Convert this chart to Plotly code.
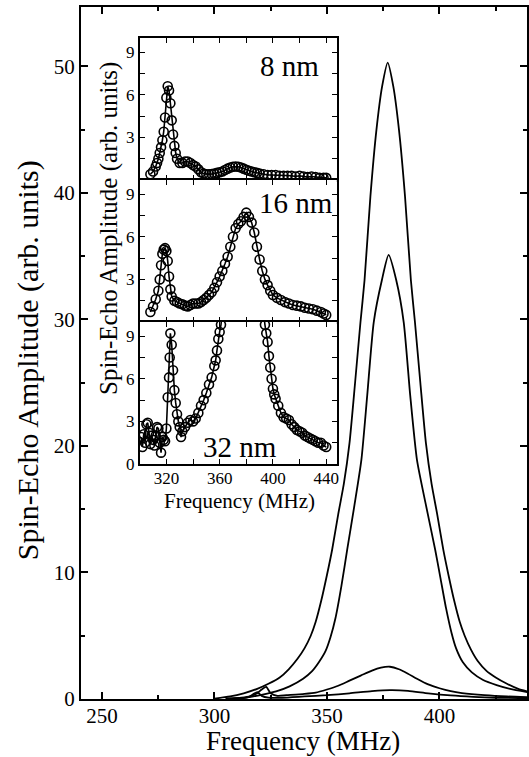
import plotly.graph_objects as go

# ---------------- main panel data (Frequency MHz, amplitude) ----------------
xa = [300, 307, 313, 319, 324, 329, 333, 337, 340, 342.8, 345, 347.5, 350, 352.3, 355, 357.5, 360, 362.5, 364.9, 366.7,
      369.3, 372, 374.5, 377, 379.5, 382, 384.7, 387.3, 389.1, 391.5, 394, 396.5, 399, 401.7, 404, 406.5, 409, 411.2,
      414, 417, 421, 425, 430, 435, 439]
ya = [0.03, 0.2, 0.45, 0.8, 1.2, 1.7, 2.35, 3.2, 4.0, 5.0, 6.1, 7.8, 9.8, 11.8, 14.6, 17.0, 20.2, 25.0, 29.8, 33.1,
      39.7, 45, 48.4, 50.3, 48.4, 45, 39.7, 33.1, 29.8, 25.0, 20.2, 17.0, 14.6, 11.8, 9.8, 7.8, 6.1, 5.0,
      3.9, 3.0, 2.2, 1.7, 1.2, 0.8, 0.6]

xb = [308.4, 315.4, 321.4, 327.4, 333.4, 339.4, 343.4, 346.4, 349.4, 351.6, 353.8, 356.4, 359, 362.2, 365.3, 367.9,
      370.8, 374.4, 377.4, 380.8, 384.1, 387, 390, 393.9, 398.1, 400.4, 402.9, 405.4, 407.4, 410.4, 414.4, 419.4,
      425.4, 431.4, 439]
yb = [0.02, 0.15, 0.35, 0.6, 1.0, 1.6, 2.2, 2.9, 3.8, 4.9, 6.4, 8.9, 11.8, 15.3, 18.9, 24.0,
      29.8, 33.1, 35.1, 33.1, 29.8, 24.0, 18.9, 15.4, 11.8, 9.6, 7.2, 5.2, 4.0, 2.9, 2.1, 1.5,
      1.1, 0.8, 0.55]

xc = [305, 312, 316, 319, 321, 323, 325, 328, 332, 340, 345, 350, 355, 360, 365, 370, 374, 378, 382, 386,
      390, 395, 400, 405, 410, 420, 430, 439]
yc = [0.05, 0.1, 0.2, 0.45, 0.75, 0.95, 0.45, 0.25, 0.3, 0.4, 0.5, 0.75, 1.05, 1.45, 1.85, 2.25, 2.48, 2.55, 2.35, 2.0,
      1.6, 1.15, 0.85, 0.62, 0.47, 0.3, 0.2, 0.15]

xd = [305, 312, 315, 317, 319, 321, 324, 330, 340, 350, 360, 370, 378, 386, 395, 405, 415, 425, 439]
yd = [0.0, 0.05, 0.15, 0.35, 0.55, 0.25, 0.1, 0.1, 0.2, 0.3, 0.45, 0.62, 0.7, 0.65, 0.45, 0.28, 0.17, 0.1, 0.06]

# ---------------- inset data ----------------
x8 = [308, 310, 312, 313, 314, 315, 316, 317, 318, 319,
      320, 321, 322, 323, 324, 325, 326, 327, 328,
      330, 332, 334, 336, 338, 340, 342, 344, 346, 348, 350, 352, 354, 356, 358, 360,
      362, 364, 366, 368, 370, 372, 374, 376, 378, 380, 382, 384, 386, 388, 390,
      393, 396, 399, 402, 405, 408, 411, 414, 417, 420, 423, 426, 429, 432, 435, 438, 440]
y8 = [0.4, 0.6, 0.95, 1.2, 1.5, 1.9, 2.3, 2.8, 3.4, 4.4,
      5.8, 6.6, 6.3, 5.4, 4.2, 3.2, 2.4, 1.9, 1.5,
      1.2, 1.2, 1.3, 1.3, 1.2, 1.05, 0.95, 0.75, 0.55, 0.45, 0.4, 0.4, 0.42, 0.45, 0.5, 0.55,
      0.6, 0.7, 0.8, 0.88, 0.93, 0.95, 0.93, 0.88, 0.8, 0.72, 0.65, 0.6, 0.55, 0.5, 0.45,
      0.4, 0.35, 0.35, 0.35, 0.3, 0.3, 0.3, 0.3, 0.25, 0.3, 0.25, 0.2, 0.25, 0.2, 0.15, 0.15, 0.15]

x16 = [308, 310, 312, 314, 315, 316, 317, 318, 319, 320, 321, 322, 323, 324,
       326, 328, 330, 332, 334, 336, 338, 340, 342, 344, 346, 348, 350, 352, 354, 356, 358, 360, 362, 364,
       366, 368, 370, 372, 374, 376, 378, 380, 382, 384, 386, 388, 390, 392, 394, 396, 398, 400,
       403, 406, 409, 412, 415, 418, 421, 424, 427, 430, 433, 436, 438, 440]
y16 = [0.7, 1.1, 1.6, 2.2, 3.0, 4.0, 4.8, 5.1, 5.2, 5.0, 4.3, 3.2, 2.3, 1.8,
       1.5, 1.4, 1.3, 1.25, 1.15, 1.1, 1.2, 1.3, 1.3, 1.3, 1.4, 1.55, 1.7, 1.9, 2.1, 2.4, 2.8, 3.2, 3.6, 4.1,
       4.6, 5.3, 6.0, 6.6, 6.9, 7.1, 7.4, 7.7, 7.4, 7.0, 6.3, 5.3, 4.4, 3.6, 3.0, 2.6, 2.2, 1.9,
       1.7, 1.55, 1.4, 1.3, 1.2, 1.15, 1.1, 1.0, 0.95, 0.9, 0.8, 0.7, 0.6, 0.5]

x32 = [301, 302, 303, 304, 305, 306, 307, 308, 309, 310, 311, 312, 313, 314, 315, 316, 317, 318, 319, 320,
       321, 322, 322.5, 323, 324, 325, 326, 327, 328, 329, 330, 331, 332, 334, 336, 338, 340, 342, 344, 346,
       348, 350, 352, 354, 356, 357, 358, 359, 360, 361, 363, 366, 370, 375, 378, 381, 386, 390, 392, 394,
       395, 396, 397, 398, 399, 400, 401, 402, 404, 406, 408, 410, 412, 414, 416, 418, 420, 422, 424, 426,
       428, 430, 432, 434, 436, 438, 440]
y32 = [1.9, 1.2, 2.1, 1.5, 2.8, 2.9, 2.2, 1.4, 2.0, 1.7, 1.3, 2.0, 2.6, 2.5, 1.5, 0.8, 1.9, 1.7, 1.6, 2.5,
       4.7, 6.1, 7.5, 9.2, 8.4, 6.6, 5.2, 4.3, 3.5, 3.0, 2.6, 1.9, 2.3, 2.6, 2.9, 3.1, 3.0, 3.2, 3.6, 4.1,
       4.5, 5.0, 5.6, 6.1, 6.9, 7.3, 8.0, 8.8, 9.3, 9.8, 11.5, 14, 20, 25, 26, 25, 20, 14, 11.5, 9.8,
       9.2, 8.6, 7.6, 6.8, 6.0, 5.3, 4.9, 4.6, 4.1, 3.6, 3.3, 3.2, 3.1, 2.8, 2.6, 2.4, 2.3, 2.2, 2.0, 1.9,
       1.8, 1.7, 1.6, 1.5, 1.5, 1.3, 1.2]

main_xticks = [250, 300, 350, 400]
inset_xticks = [320, 340, 360, 380, 400, 420, 440]
inset_xlabels = ["320", "", "360", "", "400", "", "440"]

# ---------------- geometry ----------------
W, H = 529, 757
ML, MR, MT, MB = 81, 0, 7, 58
PW, PH = W - ML - MR, H - MT - MB


def px(x):
    return (x - ML) / PW


def py(y):
    return (H - MB - y) / PH


FONT = "Liberation Serif"
fig = go.Figure()

for xs, ys in [(xa, ya), (xb, yb), (xc, yc), (xd, yd)]:
    fig.add_trace(go.Scatter(x=xs, y=ys, mode="lines", line=dict(color="black", width=1.8, shape="spline", smoothing=0.6),
                             xaxis="x", yaxis="y", showlegend=False, hoverinfo="skip"))

for xs, ys, ax in [(x8, y8, "2"), (x16, y16, "3"), (x32, y32, "4")]:
    fig.add_trace(go.Scatter(x=xs, y=ys, mode="lines+markers",
                             line=dict(color="black", width=1.6),
                             marker=dict(symbol="circle-open", size=9, color="black", line=dict(width=1.6)),
                             xaxis="x" + ax, yaxis="y" + ax, showlegend=False, hoverinfo="skip"))

axis_common = dict(showline=True, linecolor="black", linewidth=2, mirror="allticks", ticks="inside",
                   tickcolor="black", showgrid=False, zeroline=False, tickfont=dict(family=FONT, size=21, color="black"))

ix0, ix1 = px(140), px(338)
dom_top = [py(180), py(38)]
dom_mid = [py(322), py(180)]
dom_bot = [py(464), py(322)]

inset_common = dict(showline=True, linecolor="black", linewidth=1.8, mirror="allticks", ticks="inside",
                    tickcolor="black", showgrid=False, zeroline=False, tickfont=dict(family=FONT, size=17, color="black"))

layout = dict(
    width=W, height=H, margin=dict(l=ML, r=MR, t=MT, b=MB),
    plot_bgcolor="white", paper_bgcolor="white",
    xaxis=dict(domain=[0, 1], range=[240.7, 438.9], tickvals=main_xticks, ticklen=7, tickwidth=1.5,
               ticklabelstandoff=-3,
               minor=dict(dtick=25, tick0=250, ticklen=4, ticks="inside", tickcolor="black"), **axis_common),
    yaxis=dict(domain=[0, 1], range=[0, 54.7], dtick=10, ticklen=7, tickwidth=1.5,
               minor=dict(dtick=5, ticklen=4, ticks="inside", tickcolor="black"), **axis_common),
)

for i, dom in zip(["2", "3", "4"], [dom_top, dom_mid, dom_bot]):
    layout["xaxis" + i] = dict(domain=[ix0, ix1], range=[300, 448], anchor="y" + i, tickvals=inset_xticks,
                               ticktext=inset_xlabels if i == "4" else [""] * len(inset_xticks),
                               ticklen=5, tickwidth=1.2, ticklabelstandoff=-2, **inset_common)
    layout["yaxis" + i] = dict(domain=dom, range=[0, 10], anchor="x" + i,
                               tickvals=[0, 3, 6, 9] if i == "4" else [3, 6, 9],
                               ticklen=5, tickwidth=1.2,
                               minor=dict(tickvals=[1.5, 4.5, 7.5], ticklen=5, ticks="inside", tickcolor="black"),
                               **inset_common)

fig.update_layout(**layout)

ann = [
    dict(text="Frequency (MHz)", x=px(304), y=py(741), size=27, angle=0),
    dict(text="Spin-Echo Amplitude (arb. units)", x=px(28), y=py(360), size=30, angle=-90),
    dict(text="Frequency (MHz)", x=px(240), y=py(501), size=21, angle=0),
    dict(text="Spin-Echo Amplitude (arb. units)", x=px(109), y=py(228), size=25, angle=-90),
    dict(text="8 nm", x=px(290), y=py(66), size=29, angle=0),
    dict(text="16 nm", x=px(297), y=py(203), size=29, angle=0),
    dict(text="32 nm", x=px(241), y=py(447), size=29, angle=0),
]
for a in ann:
    fig.add_annotation(text=a["text"], x=a["x"], y=a["y"], xref="paper", yref="paper", showarrow=False,
                       textangle=a["angle"], xanchor="center", yanchor="middle", borderpad=0,
                       font=dict(family=FONT, size=a["size"], color="black"))

fig.write_html("out.html")
